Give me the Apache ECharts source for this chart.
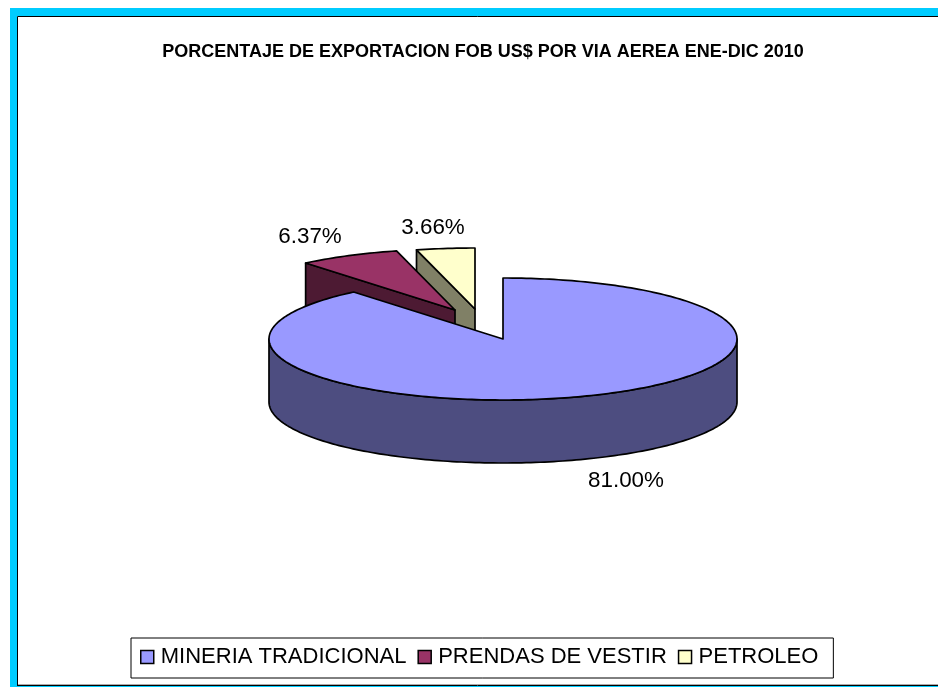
<!DOCTYPE html>
<html>
<head>
<meta charset="utf-8">
<style>
  html, body { margin: 0; padding: 0; background: #fff; }
  #chart { width: 938px; height: 687px; }
</style>
<script src="https://cdn.jsdelivr.net/npm/echarts@6/dist/echarts.min.js"></script>
</head>
<body>
<div id="chart"></div>
<script>
var categories = ["MINERIA TRADICIONAL", "PRENDAS DE VESTIR", "PETROLEO"];
var shares = [81.0, 6.37, 3.66];
var topColors = ["#9999FF", "#993366", "#FFFFCC"];
var sideColors = ["#4D4D80", "#4D1A33", "#808066"];

// geometria del pastel 3D
var cx = 503, cy = 339, rx = 234, ry = 61, depth = 63;
var explode = [[0, 0], [-48, -29], [-28, -30]];
var labelPos = [[626, 481], [310, 237], [433, 228]];
var total = shares.reduce(function (a, b) { return a + b; }, 0);

function startAngle(i) {
  var sum = 0;
  for (var k = 0; k < i; k++) sum += shares[k];
  return sum / total * Math.PI * 2;
}

// angulo medido desde las 12 en sentido horario
function rim(ox, oy, a) {
  return [cx + ox + Math.sin(a) * rx, cy + oy - Math.cos(a) * ry];
}

function arcPoints(ox, oy, a0, a1) {
  var pts = [];
  var n = Math.max(2, Math.ceil((a1 - a0) / 0.02));
  for (var i = 0; i <= n; i++) pts.push(rim(ox, oy, a0 + (a1 - a0) * i / n));
  return pts;
}

function poly(points, fill) {
  return {
    type: "polygon",
    shape: { points: points },
    style: { fill: fill, stroke: "#000", lineWidth: 1.7, lineJoin: "round" }
  };
}

function drop(points) {
  return points.map(function (p) { return [p[0], p[1] + depth]; }).reverse();
}

function renderSlice(idx) {
  return function () {
    var a0 = startAngle(idx), a1 = startAngle(idx + 1);
    var ox = explode[idx][0], oy = explode[idx][1];
    var apex = [cx + ox, cy + oy];
    var arc = arcPoints(ox, oy, a0, a1);
    var children = [];

    if (idx === 0) {
      // pared exterior: solo la parte frontal del borde
      var front = arcPoints(ox, oy, Math.PI / 2, Math.PI * 1.5);
      children.push(poly(front.concat(drop(front)), sideColors[idx]));
    } else {
      // cara de corte que mira hacia el frente
      var edge = [arc[0], apex];
      children.push(poly(edge.concat(drop(edge)), sideColors[idx]));
    }
    children.push(poly([apex].concat(arc), topColors[idx]));
    children.push({
      type: "text",
      style: {
        x: labelPos[idx][0], y: labelPos[idx][1],
        text: shares[idx].toFixed(2) + "%",
        font: "22.4px 'Liberation Sans'", fill: "#000",
        align: "center", verticalAlign: "middle"
      }
    });
    return { type: "group", children: children };
  };
}

var chart = echarts.init(document.getElementById("chart"));

chart.setOption({
  animation: false,
  backgroundColor: "#fff",
  title: {
    text: "PORCENTAJE DE EXPORTACION FOB US$ POR VIA AEREA ENE-DIC 2010",
    left: 478, top: 38, textAlign: "center",
    textStyle: { fontFamily: "Liberation Sans", fontWeight: "bold", fontSize: 18, color: "#000" }
  },
  legend: {
    left: 131, top: 638, width: 700,
    padding: [8, 15, 10, 9],
    itemGap: 11, itemWidth: 13, itemHeight: 13,
    borderColor: "#000", borderWidth: 1,
    icon: "rect",
    selectedMode: false,
    data: categories.map(function (c, i) {
      return { name: c, itemStyle: { color: topColors[i], borderColor: "#000", borderWidth: 1.5 } };
    }),
    textStyle: { fontFamily: "Liberation Sans", fontSize: 22, color: "#000", padding: [0, 0, 0, 2] }
  },
  graphic: [
    { type: "rect", z: -10, silent: true, shape: { x: 10, y: 8, width: 928, height: 8 }, style: { fill: "#00CCFF" } },
    { type: "rect", z: -10, silent: true, shape: { x: 10, y: 8, width: 7, height: 679 }, style: { fill: "#00CCFF" } },
    { type: "rect", z: -10, silent: true, shape: { x: 10, y: 686, width: 928, height: 1 }, style: { fill: "#00CCFF" } },
    { type: "polyline", z: -9, silent: true, shape: { points: [[17.5, 685.5], [17.5, 16.5], [938, 16.5]] }, style: { stroke: "#000", fill: null, lineWidth: 1 } },
    { type: "line", z: -9, silent: true, shape: { x1: 17, y1: 685.5, x2: 938, y2: 685.5 }, style: { stroke: "#000", lineWidth: 1 } },
    { type: "line", z: -9, silent: true, shape: { x1: 18, y1: 684.5, x2: 938, y2: 684.5 }, style: { stroke: "#AAA", lineWidth: 1 } }
  ],
  series: categories.map(function (c, i) {
    return {
      type: "custom",
      name: c,
      coordinateSystem: "none",
      z: 5 - i,
      silent: true,
      data: [shares[i]],
      renderItem: renderSlice(i)
    };
  })
});
</script>
</body>
</html>
